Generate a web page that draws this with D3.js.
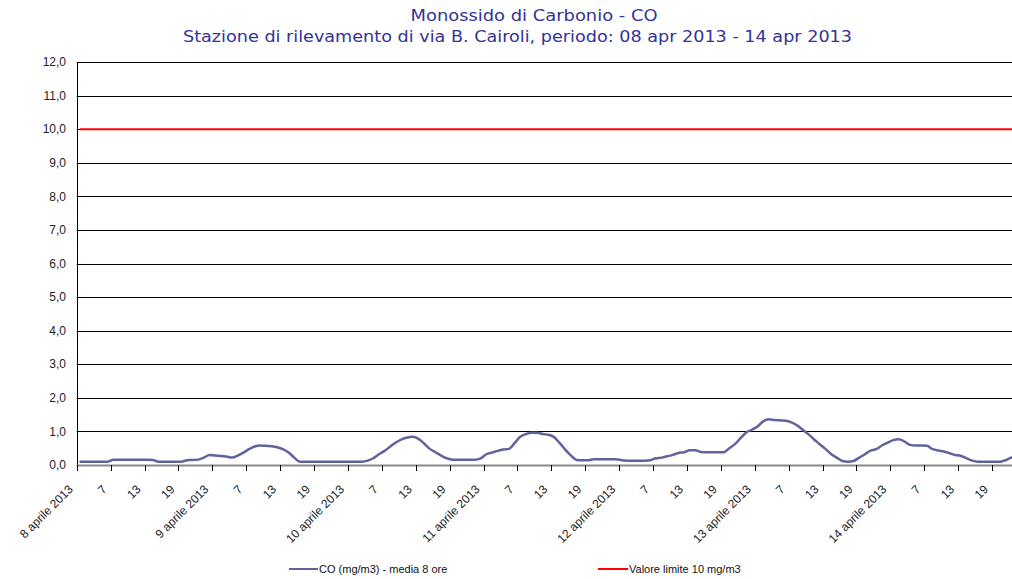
<!DOCTYPE html>
<html>
<head>
<meta charset="utf-8">
<script src="https://cdn.jsdelivr.net/npm/d3@7"></script>
<style>
  html, body { margin: 0; padding: 0; background: #fff; }
  svg { display: block; }
</style>
</head>
<body>
<div id="chart"></div>
<script>
// ---------- DATA ----------
const titleLine1 = "Monossido di Carbonio - CO";
const titleLine2 = "Stazione di rilevamento di via B. Cairoli, periodo: 08 apr 2013 - 14 apr 2013";
const dayLabels = ["8 aprile 2013", "9 aprile 2013", "10 aprile 2013", "11 aprile 2013", "12 aprile 2013", "13 aprile 2013", "14 aprile 2013"];
const hourLabels = ["7", "13", "19"];
const yTicks = [0, 1, 2, 3, 4, 5, 6, 7, 8, 9, 10, 11, 12];
const limitValue = 10;
const seriesNames = ["CO (mg/m3) - media 8 ore", "Valore limite 10 mg/m3"];
// hourly 8-hour moving average, CO mg/m3 (8 apr 01h onward)
const coValues = [
  // 8 apr
  0.10, 0.10, 0.10, 0.10, 0.10, 0.10, 0.16, 0.16, 0.16, 0.16, 0.16, 0.16, 0.16, 0.15,
  0.10, 0.10, 0.10, 0.10, 0.10, 0.14, 0.15, 0.16, 0.22, 0.30,
  // 9 apr
  0.28, 0.27, 0.25, 0.22, 0.28, 0.37, 0.47, 0.55, 0.58, 0.57, 0.56, 0.53, 0.47, 0.37,
  0.22, 0.10, 0.10, 0.10, 0.10, 0.10, 0.10, 0.10, 0.10, 0.10,
  // 10 apr
  0.10, 0.10, 0.10, 0.13, 0.20, 0.32, 0.42, 0.55, 0.67, 0.76, 0.82, 0.84, 0.78, 0.64,
  0.48, 0.38, 0.28, 0.20, 0.16, 0.16, 0.16, 0.16, 0.16, 0.20,
  // 11 apr
  0.32, 0.37, 0.42, 0.46, 0.48, 0.65, 0.84, 0.92, 0.96, 0.96, 0.92, 0.90, 0.83, 0.65,
  0.45, 0.28, 0.15, 0.14, 0.14, 0.17, 0.17, 0.17, 0.17, 0.17,
  // 12 apr
  0.14, 0.13, 0.13, 0.13, 0.13, 0.14, 0.20, 0.22, 0.26, 0.30, 0.36, 0.38, 0.44, 0.44,
  0.39, 0.38, 0.38, 0.38, 0.38, 0.50, 0.62, 0.80, 0.97, 1.05,
  // 13 apr
  1.15, 1.30, 1.36, 1.34, 1.33, 1.32, 1.27, 1.18, 1.05, 0.92, 0.76, 0.62, 0.48, 0.33,
  0.22, 0.12, 0.10, 0.12, 0.22, 0.32, 0.43, 0.47, 0.58, 0.66,
  // 14 apr
  0.74, 0.77, 0.70, 0.60, 0.58, 0.58, 0.57, 0.47, 0.43, 0.40, 0.35, 0.30, 0.27, 0.20,
  0.13, 0.10, 0.10, 0.10, 0.10, 0.10, 0.15, 0.23, 0.30
];

// ---------- LAYOUT ----------
const W = 1012, H = 579;
const plotLeft = 76.7, plotTop = 62, plotBottom = 465, plotRight = 1012;
const hourPx = 5.65;
const hoursTotal = dayLabels.length * 24;

const svg = d3.select("#chart").append("svg")
  .attr("width", W).attr("height", H)
  .style("font-family", "'Liberation Sans', Arial, sans-serif");

const y = d3.scaleLinear().domain([0, 12]).range([plotBottom, plotTop]);
const x = d3.scaleLinear().domain([0, hoursTotal]).range([plotLeft, plotLeft + hoursTotal * hourPx]);

svg.append("clipPath").attr("id", "clip")
  .append("rect").attr("x", plotLeft - 1).attr("y", 0)
  .attr("width", plotRight - plotLeft + 1).attr("height", H);

// Titles
svg.append("text").text(titleLine1)
  .attr("x", 534).attr("y", 21).attr("text-anchor", "middle")
  .attr("font-family", "'DejaVu Sans', Tahoma, sans-serif")
  .attr("font-size", 15.5).attr("fill", "#333399")
  .attr("textLength", 247).attr("lengthAdjust", "spacingAndGlyphs");
svg.append("text").text(titleLine2)
  .attr("x", 517.5).attr("y", 42).attr("text-anchor", "middle")
  .attr("font-family", "'DejaVu Sans', Tahoma, sans-serif")
  .attr("font-size", 15.5).attr("fill", "#333399")
  .attr("textLength", 669).attr("lengthAdjust", "spacingAndGlyphs");

// Gridlines
const g = svg.append("g").attr("clip-path", "url(#clip)");
g.selectAll("line.grid").data(yTicks.filter(d => d > 0)).enter().append("line")
  .attr("class", "grid")
  .attr("x1", plotLeft).attr("x2", plotRight)
  .attr("y1", d => Math.round(y(d)) + 0.5).attr("y2", d => Math.round(y(d)) + 0.5)
  .attr("stroke", "#000").attr("stroke-width", 1);

// Y axis labels
svg.selectAll("text.ylab").data(yTicks).enter().append("text")
  .attr("class", "ylab")
  .attr("x", 66).attr("y", d => y(d)).attr("dy", "0.35em")
  .attr("text-anchor", "end").attr("font-size", 12).attr("fill", "#222")
  .text(d => d3.format(".1f")(d).replace(".", ","));

// Y axis line
svg.append("line")
  .attr("x1", Math.round(plotLeft) + 0.5).attr("x2", Math.round(plotLeft) + 0.5)
  .attr("y1", plotTop).attr("y2", plotBottom + 1)
  .attr("stroke", "#000").attr("stroke-width", 1);

// X axis line
svg.append("line")
  .attr("x1", plotLeft).attr("x2", plotRight)
  .attr("y1", plotBottom + 0.5).attr("y2", plotBottom + 0.5)
  .attr("stroke", "#8a8a8a").attr("stroke-width", 2);

// X ticks & labels
const tickHours = d3.range(0, hoursTotal, 6).filter(h => x(h) <= plotRight);
svg.selectAll("line.xtick").data(tickHours).enter().append("line")
  .attr("x1", d => Math.round(x(d)) + 0.5).attr("x2", d => Math.round(x(d)) + 0.5)
  .attr("y1", plotBottom).attr("y2", plotBottom + 6)
  .attr("stroke", "#000").attr("stroke-width", 1);

const tickLabel = h => (h % 24 === 0) ? dayLabels[h / 24] : hourLabels[(h % 24) / 6 - 1];
svg.selectAll("text.xlab").data(tickHours).enter().append("text")
  .attr("transform", d => `translate(${x(d) - 3},${plotBottom + 25}) rotate(-45)`)
  .attr("text-anchor", "end").attr("font-size", 12).attr("fill", "#222")
  .text(tickLabel);

// Limit line
g.append("line")
  .attr("x1", plotLeft + 3).attr("x2", plotRight)
  .attr("y1", y(limitValue)).attr("y2", y(limitValue))
  .attr("stroke", "#ff0000").attr("stroke-width", 2);

// CO line
const line = d3.line()
  .x((d, i) => x(i + 0.5))
  .y(d => y(d))
  .curve(d3.curveMonotoneX);
g.append("path").datum(coValues)
  .attr("d", line)
  .attr("fill", "none")
  .attr("stroke", "#62629f")
  .attr("stroke-width", 2.5)
  .attr("stroke-linejoin", "round");

// Legend
const legend = [
  { name: seriesNames[0], color: "#62629f", x1: 289, x2: 318 },
  { name: seriesNames[1], color: "#ff0000", x1: 598, x2: 628 }
];
const lg = svg.selectAll("g.leg").data(legend).enter().append("g");
lg.append("line")
  .attr("x1", d => d.x1).attr("x2", d => d.x2)
  .attr("y1", 569).attr("y2", 569)
  .attr("stroke", d => d.color).attr("stroke-width", 2);
lg.append("text")
  .attr("x", d => d.x2 + 1).attr("y", 569).attr("dy", "0.35em")
  .attr("font-size", 11).attr("fill", "#111")
  .text(d => d.name);
</script>
</body>
</html>
